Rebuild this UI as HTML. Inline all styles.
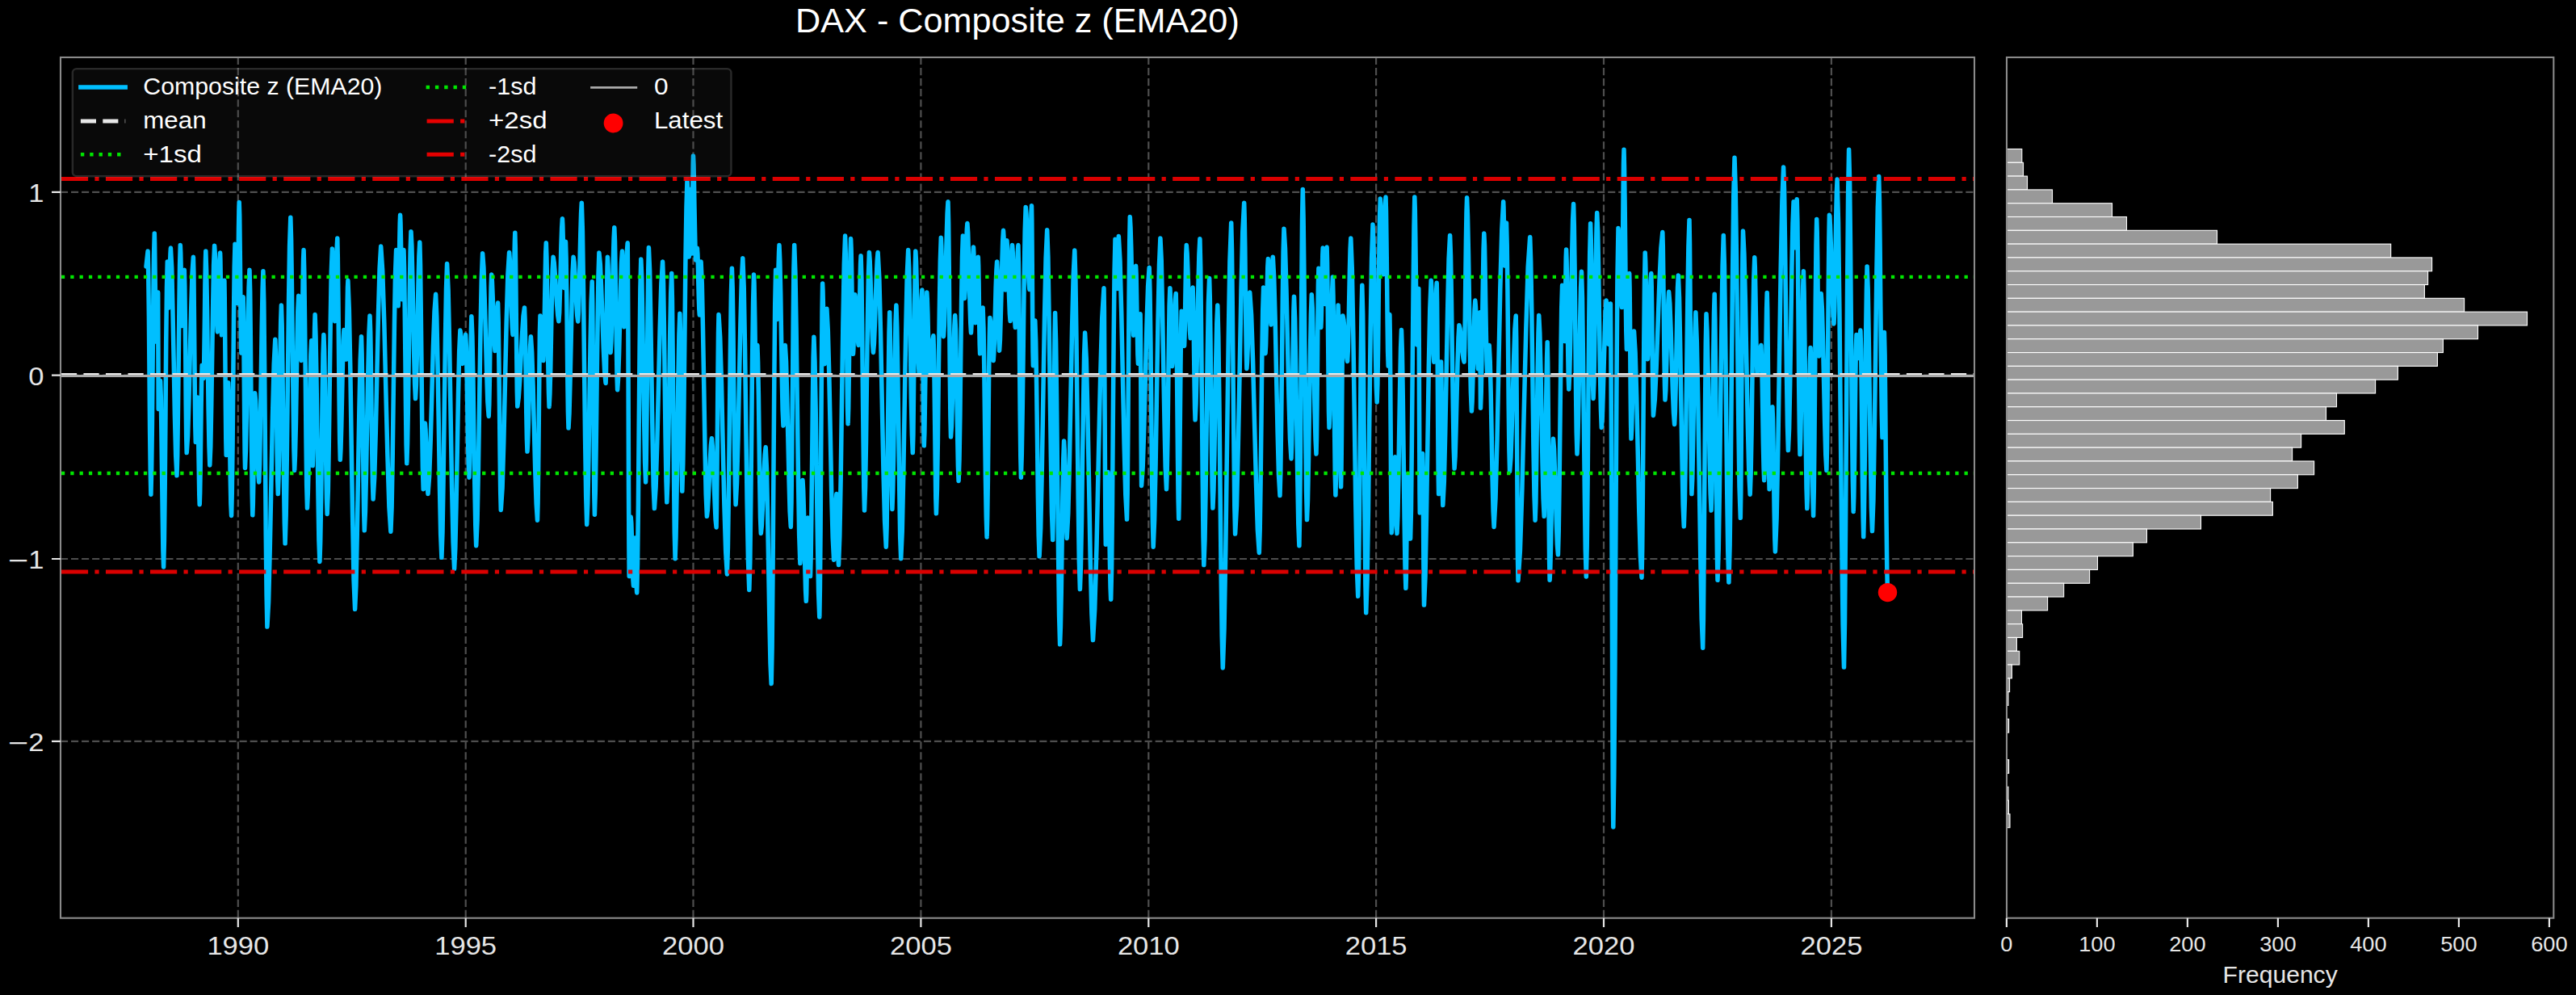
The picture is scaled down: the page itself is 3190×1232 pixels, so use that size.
<!DOCTYPE html>
<html><head><meta charset="utf-8"><title>DAX - Composite z (EMA20)</title>
<style>html,body{margin:0;padding:0;background:#000;}svg{display:block;}</style></head>
<body>
<svg width="3190" height="1232" viewBox="0 0 3190 1232" font-family="Liberation Sans, sans-serif">
<rect width="3190" height="1232" fill="#000"/>
<defs><clipPath id="c1"><rect x="75.0" y="71.0" width="2370.0" height="1065.7"/></clipPath></defs>
<path d="M294.8 71.0V1136.7M576.7 71.0V1136.7M858.5 71.0V1136.7M1140.4 71.0V1136.7M1422.3 71.0V1136.7M1704.1 71.0V1136.7M1986.0 71.0V1136.7M2267.9 71.0V1136.7M75.0 237.8H2445.0M75.0 464.6H2445.0M75.0 692.0H2445.0M75.0 917.8H2445.0" stroke="#4e4e4e" stroke-width="2.2" stroke-dasharray="9.1 3.935" fill="none"/>
<g clip-path="url(#c1)">
<path d="M181.0 330.0 183.1 310.9 183.7 337.1 184.4 391.2 185.0 461.5 185.6 531.8 186.3 586.0 186.9 612.2 187.6 584.1 188.4 526.0 189.1 450.6 189.8 375.2 190.5 317.1 191.3 289.1 191.6 300.7 191.9 324.8 192.3 356.1 192.6 387.4 192.9 411.5 193.2 423.1 193.6 417.8 194.0 406.8 194.4 392.5 194.8 378.2 195.2 367.2 195.7 361.9 196.2 506.6 196.6 503.6 197.0 497.3 197.4 489.1 197.8 480.9 198.2 474.6 198.6 471.6 199.3 491.6 199.9 533.0 200.6 586.8 201.3 640.6 201.9 682.0 202.6 702.0 203.4 669.1 204.2 601.2 205.0 513.0 205.7 424.8 206.5 356.9 207.3 324.0 207.6 329.0 207.8 339.3 208.1 352.6 208.3 365.9 208.6 376.2 208.8 381.2 209.2 374.7 209.7 361.4 210.1 344.1 210.5 326.9 211.0 313.6 211.4 307.1 212.7 331.6 213.9 382.2 215.2 448.0 216.4 513.7 217.7 564.4 219.0 588.8 219.7 564.0 220.4 512.8 221.2 446.2 221.9 379.7 222.6 328.4 223.3 303.6 223.7 312.3 224.1 330.3 224.5 353.6 224.9 376.9 225.3 394.9 225.7 403.6 226.2 397.6 226.6 385.1 227.0 368.9 227.4 352.7 227.9 340.3 228.3 334.2 228.8 353.9 229.3 394.6 229.8 447.4 230.2 500.2 230.7 540.9 231.2 560.6 232.6 539.5 233.9 495.9 235.3 439.4 236.7 382.8 238.0 339.3 239.4 318.2 239.9 338.1 240.3 379.3 240.8 432.8 241.3 486.3 241.8 527.5 242.3 547.4 242.7 542.6 243.1 532.6 243.5 519.7 243.9 506.7 244.3 496.7 244.7 491.9 245.1 503.4 245.5 527.3 245.9 558.3 246.4 589.3 246.8 613.1 247.2 624.7 247.7 609.7 248.2 578.7 248.7 538.5 249.2 498.3 249.7 467.3 250.2 452.3 252.1 468.6 252.6 454.9 253.0 426.6 253.5 389.8 253.9 353.0 254.4 324.6 254.8 310.9 255.6 334.0 256.5 381.6 257.3 443.5 258.1 505.3 259.0 553.0 259.8 576.0 260.8 552.4 261.7 503.5 262.7 440.1 263.7 376.7 264.6 327.8 265.6 304.2 266.2 313.5 266.8 332.7 267.4 357.6 268.0 382.4 268.7 401.6 269.3 410.9 269.8 402.4 270.4 384.8 270.9 361.9 271.5 339.1 272.0 321.5 272.6 313.0 272.9 321.8 273.2 340.1 273.6 363.9 273.9 387.6 274.2 406.0 274.5 414.8 275.1 408.9 275.6 396.8 276.2 381.1 276.7 365.3 277.3 353.2 277.9 347.3 278.2 366.1 278.6 405.0 279.0 455.4 279.4 505.8 279.8 544.7 280.2 563.5 280.6 555.7 281.0 539.5 281.4 518.6 281.9 497.6 282.3 481.5 282.7 473.7 283.4 488.0 284.0 517.6 284.7 556.0 285.3 594.5 285.9 624.1 286.6 638.4 287.3 609.2 288.1 548.7 288.8 470.3 289.5 391.8 290.2 331.4 291.0 302.2 291.5 308.6 292.0 321.8 292.5 338.9 293.0 356.0 293.6 369.2 294.1 375.6 294.4 364.8 294.8 342.3 295.2 313.1 295.5 283.9 295.9 261.4 296.2 250.6 296.7 266.8 297.1 300.3 297.6 343.9 298.0 387.4 298.5 420.9 298.9 437.1 299.3 431.1 299.7 418.6 300.0 402.4 300.4 386.3 300.8 373.8 301.2 367.8 301.6 386.2 301.9 424.2 302.3 473.6 302.7 523.0 303.1 561.1 303.5 579.5 304.4 558.2 305.3 514.1 306.3 456.9 307.2 399.6 308.1 355.6 309.0 334.2 309.7 360.6 310.3 415.2 310.9 486.0 311.6 556.9 312.2 611.4 312.8 637.8 313.3 624.7 313.8 597.5 314.3 562.3 314.8 527.1 315.2 499.9 315.7 486.8 316.6 496.4 317.4 516.2 318.2 541.9 319.0 567.6 319.9 587.4 320.7 597.0 321.6 574.3 322.4 527.3 323.3 466.3 324.2 405.4 325.1 358.4 325.9 335.7 326.8 374.0 327.6 453.1 328.4 555.9 329.2 658.7 330.1 737.8 330.9 776.1 332.6 745.2 334.2 681.2 335.9 598.2 337.5 515.1 339.2 451.2 340.8 420.2 341.4 436.9 342.0 471.2 342.6 515.9 343.1 560.5 343.7 594.9 344.3 611.6 345.0 591.3 345.7 549.3 346.4 494.8 347.0 440.3 347.7 398.3 348.4 378.0 349.2 403.6 349.9 456.6 350.7 525.4 351.5 594.2 352.3 647.2 353.1 672.8 354.2 637.7 355.3 565.2 356.4 471.0 357.5 376.8 358.6 304.3 359.8 269.2 360.6 296.5 361.4 352.7 362.2 425.8 363.1 498.9 363.9 555.2 364.7 582.4 365.5 563.6 366.4 524.8 367.2 474.4 368.0 423.9 368.8 385.1 369.7 366.3 370.3 373.3 370.9 387.7 371.4 406.4 372.0 425.1 372.6 439.5 373.2 446.5 373.7 434.6 374.2 409.9 374.7 378.0 375.1 346.0 375.6 321.4 376.1 309.5 376.8 337.2 377.5 394.7 378.3 469.3 379.0 543.8 379.7 601.3 380.5 629.1 381.3 611.0 382.2 573.8 383.1 525.4 384.0 477.0 384.8 439.7 385.7 421.7 385.9 435.1 386.2 463.0 386.4 499.1 386.7 535.3 386.9 563.1 387.2 576.6 387.6 560.3 388.1 526.7 388.6 483.1 389.1 439.5 389.6 405.9 390.1 389.6 391.0 416.2 392.0 471.2 393.0 542.6 394.0 613.9 394.9 668.9 395.9 695.5 396.7 671.1 397.6 620.6 398.4 555.0 399.2 489.4 400.0 438.8 400.9 414.4 401.6 433.7 402.3 473.6 403.0 525.4 403.8 577.2 404.5 617.1 405.2 636.4 406.3 607.8 407.3 548.8 408.3 472.2 409.3 395.6 410.3 336.5 411.4 308.0 411.9 315.8 412.5 331.9 413.0 352.9 413.6 373.8 414.2 390.0 414.7 397.8 415.2 388.8 415.7 370.3 416.2 346.3 416.8 322.3 417.3 303.8 417.8 294.9 418.3 318.7 418.9 368.1 419.5 432.1 420.1 496.1 420.7 545.5 421.3 569.3 422.0 555.3 422.8 526.4 423.6 488.9 424.4 451.4 425.1 422.5 425.9 408.6 426.4 411.7 426.9 418.3 427.4 426.8 427.9 435.3 428.4 441.9 428.8 445.1 429.2 436.6 429.5 419.0 429.9 396.2 430.2 373.4 430.5 355.8 430.9 347.3 432.3 382.7 433.8 455.9 435.2 550.8 436.7 645.8 438.1 718.9 439.6 754.3 440.9 725.0 442.2 664.3 443.5 585.5 444.9 506.7 446.2 446.1 447.5 416.7 448.1 437.6 448.8 480.7 449.4 536.7 450.0 592.7 450.7 635.9 451.3 656.8 452.4 633.7 453.5 585.9 454.6 523.9 455.8 461.9 456.9 414.2 458.0 391.1 458.7 410.8 459.4 451.6 460.0 504.5 460.7 557.5 461.4 598.3 462.1 618.0 463.7 590.8 465.3 534.5 466.9 461.5 468.5 388.5 470.1 332.3 471.7 305.1 473.7 335.8 475.8 399.3 477.8 481.6 479.9 564.0 481.9 627.5 483.9 658.2 485.1 627.9 486.2 565.2 487.3 483.8 488.4 402.5 489.5 339.8 490.6 309.5 491.1 315.5 491.5 328.0 491.9 344.1 492.4 360.3 492.8 372.8 493.2 378.8 493.6 369.0 494.0 348.8 494.4 322.6 494.8 296.3 495.2 276.1 495.6 266.3 496.0 275.4 496.4 294.1 496.8 318.5 497.3 342.8 497.7 361.6 498.1 370.7 498.4 365.3 498.7 354.3 499.0 340.1 499.3 325.8 499.7 314.8 500.0 309.5 500.6 332.4 501.2 379.9 501.9 441.6 502.5 503.2 503.1 550.7 503.8 573.7 504.6 548.7 505.5 497.2 506.4 430.2 507.3 363.2 508.1 311.7 509.0 286.7 509.9 304.7 510.8 341.9 511.8 390.1 512.7 438.4 513.6 475.5 514.5 493.5 515.4 476.7 516.3 441.9 517.2 396.8 518.0 351.7 518.9 316.9 519.8 300.1 520.5 326.7 521.2 381.6 522.0 452.9 522.7 524.2 523.4 579.2 524.2 605.7 524.5 598.6 524.9 584.0 525.3 564.9 525.7 545.9 526.0 531.2 526.4 524.1 527.0 531.7 527.6 547.4 528.2 567.9 528.8 588.3 529.4 604.0 530.0 611.6 531.6 590.1 533.2 545.6 534.8 487.9 536.4 430.2 538.0 385.8 539.6 364.3 540.8 392.6 542.0 451.2 543.3 527.3 544.5 603.3 545.7 661.9 546.9 690.3 548.0 658.6 549.1 593.2 550.2 508.3 551.4 423.4 552.5 358.0 553.6 326.4 555.1 359.2 556.6 427.1 558.1 515.3 559.6 603.5 561.1 671.4 562.6 704.3 563.8 678.6 565.0 625.6 566.3 556.7 567.5 487.9 568.7 434.8 569.9 409.1 570.4 412.7 570.8 420.1 571.2 429.8 571.7 439.4 572.1 446.8 572.6 450.4 573.2 447.3 573.9 440.8 574.6 432.4 575.3 424.0 576.0 417.5 576.6 414.4 577.4 429.8 578.1 461.5 578.8 502.8 579.5 544.0 580.3 575.8 581.0 591.2 581.5 573.8 582.0 538.0 582.5 491.4 582.9 444.9 583.4 409.0 583.9 391.7 584.9 416.3 585.9 467.4 586.8 533.7 587.8 600.0 588.8 651.0 589.7 675.7 591.1 644.2 592.4 579.2 593.7 494.8 595.0 410.3 596.3 345.3 597.6 313.8 598.9 331.3 600.1 367.6 601.4 414.6 602.7 461.6 603.9 497.9 605.2 515.4 605.8 500.1 606.4 468.6 606.9 427.7 607.5 386.8 608.1 355.3 608.7 340.1 609.4 348.3 610.1 365.3 610.9 387.3 611.6 409.3 612.3 426.3 613.0 434.5 613.6 429.4 614.2 418.7 614.8 404.8 615.4 390.9 616.0 380.2 616.6 375.0 617.2 397.3 617.8 443.4 618.5 503.2 619.1 563.0 619.7 609.1 620.3 631.4 622.1 603.7 623.8 546.3 625.5 471.9 627.2 397.4 628.9 340.1 630.6 312.4 631.3 321.2 632.0 339.6 632.8 363.4 633.5 387.2 634.3 405.5 635.0 414.4 635.5 403.4 636.0 380.7 636.4 351.3 636.9 321.8 637.4 299.1 637.8 288.2 638.3 306.9 638.8 345.5 639.3 395.7 639.8 445.8 640.3 484.5 640.8 503.1 642.2 492.5 643.7 470.5 645.1 442.0 646.6 413.5 648.0 391.5 649.5 380.9 650.1 396.4 650.7 428.4 651.2 470.0 651.8 511.6 652.4 543.6 653.0 559.1 653.7 546.7 654.5 521.1 655.2 487.9 655.9 454.7 656.6 429.1 657.4 416.7 658.7 436.5 660.1 477.4 661.4 530.5 662.8 583.6 664.2 624.4 665.5 644.2 666.1 622.2 666.7 576.7 667.3 517.6 667.9 458.6 668.4 413.1 669.0 391.1 669.7 395.9 670.3 405.9 671.0 418.8 671.6 431.8 672.2 441.8 672.9 446.6 673.5 433.9 674.0 407.7 674.6 373.7 675.2 339.6 675.7 313.4 676.3 300.7 676.9 318.4 677.6 354.8 678.2 402.2 678.8 449.6 679.5 486.1 680.1 503.7 680.9 487.6 681.8 454.3 682.6 411.0 683.4 367.7 684.2 334.3 685.1 318.2 686.2 325.1 687.3 339.4 688.5 358.0 689.6 376.5 690.8 390.8 691.9 397.8 692.7 386.7 693.4 363.9 694.2 334.2 694.9 304.6 695.7 281.7 696.4 270.7 696.8 278.1 697.2 293.5 697.5 313.5 697.9 333.5 698.3 348.9 698.7 356.4 699.0 351.4 699.3 341.1 699.6 327.8 699.9 314.5 700.2 304.2 700.5 299.3 701.1 319.3 701.7 360.8 702.3 414.6 702.8 468.4 703.4 509.9 704.0 530.0 705.0 511.6 706.0 473.5 707.1 424.1 708.1 374.7 709.1 336.6 710.1 318.2 711.1 325.1 712.0 339.5 712.9 358.1 713.8 376.7 714.8 391.1 715.7 398.0 716.5 385.3 717.2 358.9 718.0 324.6 718.8 290.3 719.6 263.9 720.3 251.2 721.4 285.8 722.5 357.4 723.5 450.3 724.6 543.3 725.7 614.8 726.7 649.5 727.8 623.3 728.9 569.3 729.9 499.1 731.0 429.0 732.1 374.9 733.2 348.8 733.7 373.9 734.2 425.7 734.8 493.0 735.3 560.3 735.8 612.2 736.4 637.2 737.3 609.0 738.2 550.8 739.1 475.1 740.1 399.4 741.0 341.1 741.9 313.0 743.3 327.0 744.6 356.1 746.0 393.8 747.3 431.5 748.7 460.5 750.1 474.6 750.5 461.0 750.8 432.9 751.2 396.4 751.6 359.9 752.0 331.8 752.4 318.2 753.0 328.5 753.6 349.8 754.2 377.4 754.8 405.0 755.5 426.3 756.1 436.5 756.9 423.1 757.7 395.3 758.5 359.2 759.3 323.0 760.1 295.2 760.8 281.8 761.5 299.2 762.1 335.4 762.7 382.2 763.4 429.1 764.0 465.3 764.6 482.7 765.6 467.8 766.6 436.9 767.6 396.8 768.5 356.7 769.5 325.8 770.5 310.9 770.9 319.1 771.3 335.9 771.7 357.8 772.1 379.7 772.5 396.6 772.9 404.8 773.6 395.7 774.3 377.0 775.0 352.7 775.7 328.5 776.5 309.8 777.2 300.7 777.5 336.6 777.9 410.8 778.2 507.2 778.5 603.5 778.9 677.7 779.2 713.6 779.5 707.2 779.9 694.0 780.2 676.9 780.6 659.7 780.9 646.5 781.2 640.1 781.8 647.5 782.3 662.8 782.8 682.7 783.4 702.6 783.9 717.9 784.5 725.3 784.7 720.1 785.0 709.4 785.3 695.6 785.6 681.7 785.8 671.0 786.1 665.9 786.5 671.8 787.0 684.0 787.4 699.9 787.8 715.8 788.3 728.0 788.7 733.9 789.5 698.0 790.4 623.8 791.2 527.5 792.1 431.2 792.9 357.0 793.8 321.1 794.8 345.1 795.7 394.7 796.7 459.1 797.7 523.4 798.6 573.0 799.6 597.0 800.2 571.8 800.9 519.5 801.5 451.8 802.1 384.0 802.8 331.8 803.4 306.5 804.6 334.6 805.7 392.7 806.9 468.1 808.1 543.5 809.2 601.6 810.4 629.6 812.1 603.1 813.8 548.1 815.5 476.8 817.2 405.5 818.9 350.6 820.6 324.0 821.5 349.9 822.4 403.4 823.2 472.9 824.1 542.4 825.0 595.9 825.8 621.8 826.8 597.2 827.8 546.3 828.8 480.2 829.7 414.1 830.7 363.2 831.7 338.6 832.4 369.3 833.1 432.8 833.9 515.2 834.6 597.6 835.3 661.0 836.1 691.7 837.0 665.3 838.0 610.8 839.0 539.9 839.9 469.1 840.9 414.5 841.9 388.2 842.4 407.3 842.9 446.8 843.3 498.1 843.8 549.4 844.3 589.0 844.8 608.1 845.8 574.5 846.9 505.2 847.9 415.1 848.9 325.1 850.0 255.7 851.0 222.2 851.4 230.5 851.8 247.7 852.1 270.1 852.5 292.5 852.9 309.7 853.3 318.0 853.6 310.7 853.9 295.7 854.2 276.1 854.6 256.5 854.9 241.5 855.2 234.2 855.5 241.1 855.7 255.5 856.0 274.1 856.3 292.7 856.5 307.1 856.8 314.0 857.1 303.5 857.4 281.7 857.6 253.4 857.9 225.2 858.2 203.4 858.5 192.9 859.0 204.1 859.5 227.3 860.0 257.4 860.6 287.6 861.1 310.8 861.6 322.0 863.4 307.2 863.9 314.4 864.4 329.3 864.8 348.6 865.3 367.9 865.8 382.8 866.3 390.0 866.6 384.3 866.9 372.4 867.2 357.0 867.5 341.6 867.8 329.8 868.1 324.0 869.3 351.4 870.5 408.1 871.8 481.6 873.0 555.2 874.2 611.9 875.4 639.3 876.4 630.9 877.4 613.5 878.4 591.0 879.4 568.5 880.4 551.2 881.4 542.8 882.3 552.4 883.3 572.2 884.2 597.9 885.2 623.6 886.1 643.4 887.1 653.0 887.5 630.1 888.0 582.7 888.5 521.3 889.0 459.8 889.5 412.5 890.0 389.6 891.7 417.5 893.5 475.3 895.2 550.3 896.9 625.2 898.7 683.0 900.4 710.9 901.4 678.0 902.4 609.9 903.4 521.5 904.4 433.2 905.4 365.1 906.4 332.2 907.2 357.6 908.0 410.2 908.7 478.4 909.5 546.7 910.3 599.3 911.1 624.7 912.5 598.2 914.0 543.3 915.4 472.2 916.9 401.0 918.4 346.2 919.8 319.7 921.2 355.4 922.5 429.2 923.8 525.0 925.1 620.9 926.5 694.7 927.8 730.4 928.8 696.5 929.7 626.3 930.7 535.2 931.6 444.2 932.6 374.0 933.5 340.1 934.0 350.7 934.4 372.6 934.9 401.1 935.3 429.6 935.7 451.5 936.2 462.1 936.5 459.1 936.8 452.9 937.0 444.8 937.3 436.7 937.6 430.5 937.9 427.5 938.6 447.8 939.4 489.7 940.1 544.0 940.8 598.4 941.5 640.3 942.3 660.5 943.3 651.3 944.2 632.1 945.2 607.2 946.2 582.3 947.2 563.1 948.2 553.8 949.4 579.3 950.5 631.9 951.7 700.2 952.9 768.4 954.0 821.1 955.2 846.5 956.1 802.0 957.0 709.9 957.9 590.4 958.8 470.8 959.7 378.8 960.6 334.2 960.9 339.6 961.2 350.6 961.5 364.8 961.8 379.1 962.1 390.1 962.4 395.4 962.8 387.5 963.2 371.0 963.7 349.5 964.1 328.1 964.6 311.6 965.0 303.6 965.8 323.0 966.7 363.2 967.5 415.3 968.3 467.5 969.1 507.6 970.0 527.0 970.3 518.4 970.7 500.5 971.1 477.3 971.5 454.1 971.9 436.2 972.3 427.5 973.5 447.1 974.6 487.5 975.8 539.9 977.0 592.4 978.1 632.8 979.3 652.4 980.0 622.1 980.7 559.4 981.5 478.0 982.2 396.6 982.9 333.9 983.7 303.6 984.9 337.9 986.1 408.7 987.3 500.6 988.5 592.5 989.7 663.3 990.9 697.6 991.5 688.6 992.0 670.1 992.5 646.1 993.0 622.0 993.5 603.5 994.0 594.6 994.7 607.6 995.5 634.5 996.2 669.4 996.9 704.4 997.6 731.3 998.3 744.3 998.7 735.3 999.0 716.8 999.4 692.7 999.8 668.6 1000.2 650.1 1000.5 641.1 1001.0 647.4 1001.5 660.4 1002.0 677.3 1002.5 694.3 1003.0 707.3 1003.5 713.6 1004.2 687.8 1004.9 634.6 1005.7 565.5 1006.4 496.3 1007.1 443.1 1007.9 417.3 1009.0 447.4 1010.2 509.7 1011.3 590.6 1012.5 671.5 1013.6 733.8 1014.8 763.9 1015.4 728.0 1016.1 653.8 1016.7 557.5 1017.4 461.2 1018.0 387.0 1018.6 351.1 1019.0 359.8 1019.4 377.7 1019.8 401.0 1020.2 424.2 1020.7 442.2 1021.1 450.8 1021.5 444.9 1022.0 432.6 1022.5 416.6 1022.9 400.6 1023.4 388.3 1023.9 382.3 1025.3 409.3 1026.8 465.2 1028.3 537.8 1029.7 610.3 1031.2 666.2 1032.6 693.2 1033.2 686.1 1033.7 671.4 1034.3 652.4 1034.8 633.3 1035.3 618.7 1035.9 611.6 1036.3 619.2 1036.7 635.0 1037.2 655.6 1037.6 676.1 1038.0 692.0 1038.5 699.6 1039.8 664.2 1041.2 590.9 1042.5 495.8 1043.9 400.7 1045.3 327.4 1046.6 292.0 1047.2 312.2 1047.8 354.0 1048.4 408.3 1049.0 462.6 1049.5 504.5 1050.1 524.7 1050.7 504.8 1051.3 463.6 1051.9 410.1 1052.4 356.6 1053.0 315.4 1053.6 295.5 1054.1 307.9 1054.6 333.6 1055.1 366.9 1055.5 400.2 1056.0 425.9 1056.5 438.3 1056.9 431.9 1057.3 418.7 1057.7 401.6 1058.1 384.4 1058.5 371.2 1058.9 364.8 1059.6 370.3 1060.3 381.5 1061.0 396.1 1061.7 410.7 1062.4 422.0 1063.1 427.4 1063.6 417.8 1064.1 397.9 1064.6 372.1 1065.1 346.3 1065.6 326.4 1066.1 316.7 1066.9 344.1 1067.6 400.8 1068.3 474.4 1069.1 547.9 1069.8 604.6 1070.5 632.0 1071.5 604.2 1072.5 546.7 1073.4 472.2 1074.4 397.6 1075.4 340.2 1076.4 312.4 1077.2 323.1 1078.0 345.4 1078.9 374.4 1079.7 403.3 1080.6 425.6 1081.4 436.4 1082.4 425.6 1083.3 403.3 1084.3 374.4 1085.2 345.4 1086.2 323.1 1087.1 312.4 1088.8 344.1 1090.5 409.6 1092.2 494.8 1093.9 579.9 1095.6 645.5 1097.3 677.2 1098.1 651.9 1098.8 599.7 1099.5 531.9 1100.3 464.2 1101.0 411.9 1101.7 386.7 1102.2 407.9 1102.8 451.7 1103.3 508.6 1103.8 565.5 1104.4 609.3 1104.9 630.5 1105.7 608.6 1106.6 563.2 1107.4 504.2 1108.2 445.3 1109.0 399.9 1109.9 378.0 1110.8 405.2 1111.8 461.6 1112.8 534.8 1113.8 608.1 1114.7 664.5 1115.7 691.7 1117.2 658.5 1118.7 589.8 1120.2 500.6 1121.7 411.4 1123.2 342.7 1124.7 309.5 1125.7 331.3 1126.6 376.4 1127.5 435.0 1128.4 493.6 1129.4 538.7 1130.3 560.6 1130.9 538.9 1131.4 494.0 1132.0 435.7 1132.6 377.5 1133.2 332.6 1133.8 310.9 1134.5 324.2 1135.2 351.6 1136.0 387.2 1136.7 422.8 1137.4 450.2 1138.2 463.5 1138.8 454.4 1139.4 435.6 1140.1 411.2 1140.7 386.9 1141.3 368.1 1141.9 359.0 1142.3 375.8 1142.7 410.4 1143.1 455.4 1143.5 500.4 1143.9 535.1 1144.3 551.8 1144.9 535.3 1145.4 501.2 1146.0 456.9 1146.6 412.6 1147.2 378.4 1147.8 361.9 1148.3 370.7 1148.9 388.9 1149.4 412.5 1150.0 436.2 1150.6 454.4 1151.1 463.2 1151.9 459.0 1152.7 450.5 1153.5 439.5 1154.3 428.5 1155.1 420.0 1155.9 415.8 1156.5 435.0 1157.1 474.5 1157.7 525.8 1158.3 577.1 1158.8 616.7 1159.4 635.8 1160.4 606.1 1161.4 544.7 1162.3 465.0 1163.3 385.4 1164.3 324.0 1165.3 294.3 1165.8 304.9 1166.3 326.9 1166.9 355.5 1167.4 384.1 1167.9 406.1 1168.5 416.7 1169.4 402.2 1170.3 372.2 1171.2 333.2 1172.2 294.2 1173.1 264.2 1174.0 249.7 1174.6 275.0 1175.2 327.4 1175.7 395.4 1176.3 463.3 1176.9 515.7 1177.5 541.0 1178.4 527.9 1179.2 500.9 1180.1 465.8 1181.0 430.6 1181.9 403.6 1182.7 390.5 1183.5 408.3 1184.2 445.2 1184.9 493.0 1185.7 540.9 1186.4 577.7 1187.1 595.5 1188.0 569.2 1188.9 514.6 1189.7 443.8 1190.6 372.9 1191.5 318.4 1192.4 292.0 1192.7 298.7 1193.1 312.6 1193.4 330.7 1193.8 348.8 1194.1 362.8 1194.5 369.5 1195.0 361.4 1195.6 344.7 1196.2 323.0 1196.8 301.3 1197.3 284.6 1197.9 276.5 1198.7 288.3 1199.4 312.7 1200.2 344.3 1201.0 375.9 1201.8 400.3 1202.5 412.1 1203.0 402.8 1203.5 383.8 1204.0 359.0 1204.5 334.3 1205.0 315.2 1205.5 306.0 1205.9 314.1 1206.3 331.0 1206.7 352.9 1207.1 374.8 1207.5 391.7 1208.0 399.8 1208.5 392.7 1209.1 378.1 1209.6 359.0 1210.2 340.0 1210.8 325.3 1211.3 318.2 1211.7 328.6 1212.1 350.1 1212.4 378.0 1212.8 405.9 1213.2 427.4 1213.6 437.8 1214.2 432.9 1214.8 422.6 1215.4 409.4 1215.9 396.1 1216.5 385.8 1217.1 380.9 1218.0 405.6 1218.8 456.6 1219.6 522.9 1220.4 589.2 1221.3 640.2 1222.1 664.9 1222.7 641.3 1223.4 592.5 1224.0 529.2 1224.6 465.8 1225.3 417.0 1225.9 393.4 1226.6 398.0 1227.3 407.6 1228.0 420.0 1228.7 432.4 1229.5 441.9 1230.2 446.6 1230.9 435.9 1231.7 413.9 1232.4 385.3 1233.1 356.7 1233.9 334.7 1234.6 324.0 1235.1 333.6 1235.6 353.4 1236.1 379.1 1236.6 404.8 1237.1 424.6 1237.6 434.2 1238.4 421.3 1239.2 394.5 1240.1 359.7 1240.9 325.0 1241.7 298.2 1242.5 285.3 1242.9 291.7 1243.4 304.9 1243.8 322.1 1244.2 339.3 1244.7 352.6 1245.1 359.0 1245.4 353.7 1245.7 342.7 1246.0 328.4 1246.3 314.1 1246.6 303.1 1246.9 297.8 1247.6 306.5 1248.3 324.4 1249.0 347.6 1249.7 370.9 1250.4 388.8 1251.1 397.5 1251.5 389.3 1251.9 372.5 1252.4 350.6 1252.8 328.7 1253.2 311.8 1253.6 303.6 1254.2 312.5 1254.8 330.8 1255.4 354.6 1256.1 378.4 1256.7 396.8 1257.3 405.6 1257.9 396.8 1258.5 378.4 1259.1 354.6 1259.7 330.8 1260.3 312.5 1260.9 303.6 1261.4 328.6 1262.0 380.3 1262.6 447.4 1263.2 514.5 1263.8 566.2 1264.4 591.2 1265.3 562.1 1266.3 501.9 1267.3 423.8 1268.2 345.7 1269.2 285.5 1270.2 256.4 1271.0 265.3 1271.8 283.6 1272.5 307.4 1273.3 331.2 1274.1 349.6 1274.9 358.4 1275.3 349.4 1275.7 330.8 1276.2 306.5 1276.6 282.3 1277.0 263.7 1277.5 254.7 1277.8 271.9 1278.1 307.5 1278.4 353.7 1278.7 399.9 1279.0 435.5 1279.4 452.7 1279.8 447.8 1280.2 437.8 1280.6 424.8 1281.0 411.8 1281.4 401.7 1281.8 396.9 1282.7 422.3 1283.6 474.7 1284.5 542.9 1285.3 611.0 1286.2 663.4 1287.1 688.8 1288.7 653.7 1290.3 581.0 1291.9 486.7 1293.5 392.4 1295.1 319.8 1296.7 284.7 1297.9 318.0 1299.0 387.0 1300.2 476.5 1301.4 566.1 1302.5 635.1 1303.7 668.4 1304.2 644.0 1304.7 593.5 1305.2 528.0 1305.7 462.5 1306.1 412.0 1306.6 387.6 1307.6 423.2 1308.6 497.0 1309.6 592.7 1310.6 688.4 1311.6 762.1 1312.6 797.8 1313.4 775.9 1314.3 730.6 1315.1 671.9 1315.9 613.1 1316.8 567.9 1317.6 546.0 1318.2 556.4 1318.8 578.1 1319.4 606.2 1320.0 634.3 1320.6 655.9 1321.2 666.4 1322.8 635.4 1324.4 571.4 1326.0 488.2 1327.6 405.1 1329.2 341.0 1330.8 310.0 1331.9 346.5 1333.0 421.9 1334.1 519.8 1335.2 617.7 1336.3 693.1 1337.4 729.6 1338.4 702.0 1339.5 644.9 1340.5 570.8 1341.6 496.7 1342.6 439.7 1343.6 412.1 1345.3 445.1 1346.9 513.5 1348.6 602.3 1350.2 691.1 1351.9 759.5 1353.5 792.6 1355.7 754.7 1358.0 676.4 1360.2 574.6 1362.5 472.9 1364.7 394.6 1367.0 356.7 1367.4 384.3 1367.7 441.4 1368.1 515.5 1368.5 589.6 1368.9 646.6 1369.3 674.2 1369.8 666.5 1370.3 650.3 1370.7 629.4 1371.2 608.5 1371.7 592.4 1372.2 584.6 1372.8 598.3 1373.3 626.6 1373.9 663.4 1374.5 700.2 1375.1 728.5 1375.7 742.2 1376.6 703.4 1377.5 623.3 1378.3 519.3 1379.2 415.2 1380.1 335.1 1381.0 296.3 1381.4 301.7 1381.9 312.7 1382.4 326.9 1382.8 341.2 1383.3 352.2 1383.8 357.6 1384.0 351.9 1384.3 340.2 1384.6 325.0 1384.8 309.9 1385.1 298.2 1385.3 292.5 1387.0 323.0 1388.7 386.0 1390.4 467.8 1392.1 549.6 1393.8 612.6 1395.5 643.1 1396.2 610.5 1396.8 543.2 1397.4 455.9 1398.1 368.5 1398.7 301.2 1399.3 268.6 1400.0 281.4 1400.8 307.7 1401.5 342.0 1402.2 376.2 1402.9 402.5 1403.7 415.3 1404.2 407.8 1404.6 392.3 1405.1 372.3 1405.6 352.2 1406.1 336.8 1406.6 329.3 1407.1 339.8 1407.5 361.5 1408.0 389.8 1408.5 418.0 1408.9 439.7 1409.4 450.2 1409.9 444.9 1410.3 433.8 1410.8 419.5 1411.2 405.1 1411.7 394.1 1412.1 388.7 1412.4 407.2 1412.6 445.4 1412.9 495.1 1413.1 544.7 1413.4 582.9 1413.6 601.4 1415.2 577.9 1416.8 529.4 1418.4 466.3 1420.0 403.3 1421.6 354.8 1423.2 331.3 1424.0 361.4 1424.9 423.5 1425.7 504.2 1426.5 584.9 1427.4 647.1 1428.2 677.2 1429.6 643.9 1431.1 575.2 1432.5 486.0 1434.0 396.8 1435.5 328.1 1436.9 294.9 1438.2 321.9 1439.4 377.8 1440.7 450.3 1442.0 522.8 1443.2 578.7 1444.5 605.7 1445.2 584.1 1446.0 539.3 1446.7 481.2 1447.4 423.1 1448.1 378.3 1448.9 356.7 1449.3 365.1 1449.7 382.5 1450.2 405.1 1450.6 427.7 1451.0 445.2 1451.5 453.6 1452.3 445.7 1453.0 429.5 1453.8 408.5 1454.6 387.4 1455.4 371.2 1456.2 363.4 1456.7 387.6 1457.3 437.7 1457.9 502.8 1458.5 567.8 1459.1 617.9 1459.7 642.2 1460.2 619.8 1460.8 573.7 1461.4 513.7 1462.0 453.8 1462.6 407.6 1463.2 385.2 1463.7 389.0 1464.3 396.7 1464.9 406.8 1465.4 416.9 1466.0 424.6 1466.6 428.4 1467.0 417.5 1467.5 395.1 1467.9 366.0 1468.4 336.9 1468.8 314.5 1469.3 303.6 1470.1 313.6 1470.9 334.3 1471.8 361.2 1472.6 388.0 1473.4 408.7 1474.2 418.7 1474.7 413.3 1475.2 402.0 1475.7 387.4 1476.2 372.8 1476.7 361.5 1477.1 356.1 1477.6 370.3 1478.1 399.7 1478.6 437.9 1479.1 476.1 1479.6 505.5 1480.1 519.8 1481.0 500.3 1482.0 460.0 1483.0 407.8 1483.9 355.5 1484.9 315.2 1485.9 295.8 1486.7 330.9 1487.5 403.4 1488.4 497.7 1489.2 591.9 1490.0 664.5 1490.8 699.6 1492.0 668.7 1493.1 604.9 1494.2 522.0 1495.3 439.1 1496.4 375.3 1497.6 344.4 1498.3 369.2 1499.0 420.3 1499.7 486.7 1500.5 553.2 1501.2 604.3 1501.9 629.1 1502.9 607.2 1503.9 562.1 1504.8 503.5 1505.8 444.9 1506.8 399.8 1507.8 378.0 1508.8 417.0 1509.9 497.7 1511.0 602.5 1512.1 707.3 1513.2 788.0 1514.3 827.0 1516.0 779.1 1517.8 680.0 1519.5 551.5 1521.2 422.9 1522.9 323.8 1524.7 275.9 1525.5 309.4 1526.3 378.7 1527.1 468.5 1528.0 558.4 1528.8 627.6 1529.6 661.1 1531.5 625.5 1533.3 551.8 1535.2 456.1 1537.0 360.5 1538.8 286.8 1540.7 251.2 1541.2 269.0 1541.8 305.9 1542.3 353.8 1542.8 401.7 1543.4 438.5 1543.9 456.4 1544.5 448.2 1545.2 431.2 1545.8 409.2 1546.4 387.1 1547.1 370.1 1547.7 361.9 1549.6 390.0 1551.6 447.9 1553.5 523.2 1555.5 598.4 1557.4 656.4 1559.3 684.4 1560.2 655.9 1561.1 596.9 1562.0 520.3 1562.8 443.7 1563.7 384.6 1564.6 356.1 1565.0 363.2 1565.4 377.9 1565.8 396.9 1566.2 415.9 1566.6 430.6 1567.0 437.7 1567.6 427.5 1568.1 406.5 1568.7 379.1 1569.3 351.8 1569.8 330.7 1570.4 320.5 1571.0 327.6 1571.6 342.3 1572.2 361.3 1572.8 380.4 1573.4 395.1 1574.0 402.1 1574.4 394.9 1574.8 379.8 1575.1 360.2 1575.5 340.6 1575.9 325.5 1576.3 318.2 1577.7 343.9 1579.2 397.0 1580.6 465.9 1582.1 534.8 1583.5 587.9 1585.0 613.6 1585.8 584.9 1586.6 525.5 1587.5 448.4 1588.3 371.3 1589.1 311.9 1590.0 283.2 1591.5 308.0 1593.0 359.1 1594.5 425.5 1596.0 491.9 1597.5 543.1 1599.0 567.9 1599.6 550.4 1600.2 514.3 1600.7 467.5 1601.3 420.7 1601.9 384.6 1602.5 367.2 1603.6 394.0 1604.6 449.4 1605.7 521.4 1606.8 593.4 1607.8 648.9 1608.9 675.7 1609.6 637.4 1610.4 558.1 1611.1 455.1 1611.8 352.2 1612.5 272.9 1613.3 234.5 1614.1 270.1 1615.0 343.6 1615.9 439.1 1616.8 534.5 1617.6 608.1 1618.5 643.6 1619.5 619.4 1620.5 569.3 1621.4 504.2 1622.4 439.2 1623.4 389.1 1624.3 364.8 1625.3 382.0 1626.2 417.4 1627.2 463.4 1628.1 509.4 1629.1 544.9 1630.0 562.0 1630.5 542.0 1631.0 500.7 1631.5 447.1 1631.9 393.5 1632.4 352.2 1632.9 332.2 1633.4 338.6 1633.9 351.8 1634.3 368.9 1634.8 386.1 1635.3 399.3 1635.8 405.6 1636.2 397.1 1636.6 379.4 1637.0 356.4 1637.4 333.4 1637.8 315.7 1638.2 307.1 1638.6 313.2 1639.1 325.6 1639.5 341.8 1640.0 358.0 1640.4 370.5 1640.9 376.5 1641.3 370.4 1641.6 357.7 1642.0 341.2 1642.4 324.8 1642.7 312.1 1643.1 306.0 1643.6 325.4 1644.1 365.5 1644.6 417.7 1645.1 469.8 1645.5 510.0 1646.0 529.4 1646.8 513.2 1647.5 479.7 1648.2 436.2 1648.9 392.7 1649.7 359.2 1650.4 343.0 1651.0 366.5 1651.6 415.0 1652.2 478.0 1652.7 541.0 1653.3 589.6 1653.9 613.0 1654.4 592.6 1655.0 550.3 1655.5 495.5 1656.0 440.6 1656.6 398.4 1657.1 378.0 1657.7 397.5 1658.3 437.9 1658.9 490.4 1659.4 542.9 1660.0 583.3 1660.6 602.8 1661.0 584.4 1661.4 546.4 1661.8 497.0 1662.2 447.5 1662.5 409.5 1662.9 391.1 1663.9 396.0 1664.8 406.1 1665.8 419.2 1666.7 432.4 1667.7 442.5 1668.6 447.4 1669.3 434.1 1670.0 406.7 1670.7 371.1 1671.4 335.6 1672.1 308.1 1672.8 294.9 1674.3 333.4 1675.8 413.1 1677.3 516.6 1678.7 620.1 1680.2 699.8 1681.7 738.3 1682.6 704.8 1683.4 635.6 1684.3 545.7 1685.1 455.9 1686.0 386.7 1686.8 353.2 1687.7 388.4 1688.5 461.3 1689.3 555.9 1690.1 650.6 1690.9 723.5 1691.7 758.7 1693.1 716.9 1694.5 630.5 1695.8 518.3 1697.2 406.2 1698.6 319.8 1700.0 278.0 1700.8 297.1 1701.7 336.6 1702.6 387.9 1703.5 439.2 1704.3 478.8 1705.2 497.9 1705.9 476.0 1706.6 430.7 1707.2 371.9 1707.9 313.1 1708.6 267.8 1709.3 245.9 1709.9 254.1 1710.6 270.9 1711.3 292.8 1711.9 314.7 1712.6 331.6 1713.2 339.8 1713.7 331.4 1714.1 314.2 1714.6 291.8 1715.1 269.4 1715.5 252.2 1716.0 243.9 1716.5 262.1 1717.0 299.7 1717.6 348.5 1718.1 397.4 1718.6 435.0 1719.2 453.2 1719.5 447.6 1719.8 436.2 1720.1 421.4 1720.4 406.6 1720.6 395.1 1720.9 389.6 1721.3 413.1 1721.7 461.6 1722.1 524.6 1722.5 587.7 1722.9 636.2 1723.3 659.7 1724.0 651.5 1724.7 634.6 1725.4 612.7 1726.1 590.8 1726.8 574.0 1727.5 565.8 1727.9 574.0 1728.3 591.1 1728.8 613.2 1729.2 635.3 1729.6 652.3 1730.0 660.5 1730.9 638.6 1731.8 593.3 1732.7 534.6 1733.7 475.8 1734.6 430.5 1735.5 408.6 1736.4 436.4 1737.3 493.8 1738.2 568.4 1739.1 643.0 1740.0 700.5 1740.9 728.3 1741.3 716.0 1741.6 690.7 1742.0 657.8 1742.4 624.8 1742.7 599.5 1743.1 587.2 1743.7 594.2 1744.3 608.5 1744.9 627.1 1745.4 645.7 1746.0 660.0 1746.6 667.0 1747.5 630.2 1748.3 554.1 1749.2 455.4 1750.1 356.7 1751.0 280.6 1751.8 243.9 1752.3 259.8 1752.8 292.7 1753.3 335.4 1753.8 378.1 1754.3 411.0 1754.8 426.9 1755.1 420.9 1755.4 408.4 1755.8 392.2 1756.1 376.1 1756.5 363.6 1756.8 357.6 1757.0 381.7 1757.3 431.5 1757.5 496.2 1757.8 560.9 1758.0 610.8 1758.3 634.9 1758.8 628.5 1759.4 615.3 1759.9 598.2 1760.5 581.0 1761.1 567.8 1761.6 561.5 1761.9 577.8 1762.3 611.5 1762.6 655.3 1762.9 699.1 1763.2 732.8 1763.5 749.1 1765.0 714.2 1766.4 642.0 1767.9 548.2 1769.3 454.5 1770.8 382.3 1772.2 347.3 1772.8 356.1 1773.4 374.2 1774.0 397.8 1774.6 421.3 1775.2 439.4 1775.8 448.2 1776.4 439.7 1777.0 422.1 1777.5 399.2 1778.1 376.4 1778.7 358.8 1779.2 350.3 1779.6 373.0 1780.0 419.9 1780.4 480.9 1780.8 541.9 1781.2 588.9 1781.6 611.6 1782.1 597.3 1782.5 567.9 1783.0 529.7 1783.5 491.6 1784.0 462.1 1784.5 447.9 1784.9 463.4 1785.3 495.3 1785.7 536.7 1786.0 578.2 1786.4 610.1 1786.8 625.6 1788.3 596.5 1789.7 536.5 1791.2 458.5 1792.7 380.5 1794.1 320.4 1795.6 291.4 1796.5 316.5 1797.4 368.4 1798.3 435.7 1799.3 503.1 1800.2 555.0 1801.1 580.1 1802.1 564.7 1803.0 532.8 1804.0 491.4 1805.0 450.0 1806.0 418.1 1806.9 402.7 1808.0 406.7 1809.0 414.9 1810.0 425.5 1811.0 436.1 1812.1 444.2 1813.1 448.2 1813.7 430.5 1814.3 393.9 1814.8 346.5 1815.4 299.0 1816.0 262.4 1816.6 244.7 1817.5 267.7 1818.5 315.2 1819.5 376.9 1820.4 438.5 1821.4 486.0 1822.4 509.0 1823.1 497.1 1823.8 472.5 1824.6 440.5 1825.3 408.6 1826.0 384.0 1826.8 372.1 1827.4 379.5 1828.0 394.7 1828.6 414.4 1829.2 434.1 1829.8 449.3 1830.4 456.7 1830.8 450.6 1831.1 438.0 1831.5 421.7 1831.9 405.4 1832.2 392.8 1832.6 386.7 1833.5 505.2 1834.2 486.4 1834.9 447.5 1835.6 397.1 1836.4 346.7 1837.1 307.8 1837.8 289.1 1838.5 304.0 1839.1 335.0 1839.7 375.3 1840.4 415.5 1841.0 446.6 1841.7 461.5 1842.1 458.6 1842.5 452.5 1843.0 444.5 1843.4 436.6 1843.8 430.5 1844.2 427.5 1845.2 447.1 1846.2 487.5 1847.2 539.9 1848.1 592.4 1849.1 632.8 1850.1 652.4 1852.0 617.4 1854.0 545.0 1855.9 451.0 1857.8 357.1 1859.8 284.7 1861.7 249.7 1862.0 256.6 1862.3 270.8 1862.6 289.3 1862.8 307.8 1863.1 322.1 1863.4 329.0 1863.7 324.4 1864.1 314.8 1864.5 302.5 1864.8 290.1 1865.2 280.5 1865.5 275.9 1866.2 302.7 1866.9 358.1 1867.6 429.9 1868.2 501.8 1868.9 557.1 1869.6 583.9 1870.9 567.1 1872.1 532.5 1873.4 487.5 1874.7 442.5 1875.9 407.8 1877.2 391.1 1877.7 419.6 1878.1 478.4 1878.6 554.9 1879.1 631.3 1879.5 690.2 1880.0 718.7 1882.4 681.7 1884.9 605.3 1887.3 506.1 1889.8 406.8 1892.2 330.4 1894.7 293.4 1895.7 323.9 1896.8 387.0 1897.9 468.8 1898.9 550.7 1900.0 613.7 1901.1 644.2 1901.9 622.2 1902.6 576.6 1903.4 517.4 1904.2 458.2 1905.0 412.5 1905.7 390.5 1906.8 412.1 1907.9 456.8 1909.0 514.9 1910.0 572.9 1911.1 617.6 1912.2 639.3 1912.8 620.5 1913.5 581.8 1914.2 531.5 1914.9 481.2 1915.6 442.5 1916.2 423.7 1916.7 449.3 1917.2 502.3 1917.7 571.0 1918.1 639.7 1918.6 692.7 1919.1 718.3 1919.8 703.1 1920.6 671.6 1921.3 630.7 1922.0 589.9 1922.8 558.4 1923.5 543.2 1924.5 555.6 1925.4 581.5 1926.4 615.0 1927.4 648.5 1928.4 674.3 1929.4 686.8 1930.2 657.8 1931.1 597.8 1932.0 520.0 1932.9 442.1 1933.7 382.2 1934.6 353.2 1935.1 359.2 1935.6 371.7 1936.1 387.9 1936.7 404.1 1937.2 416.5 1937.7 422.6 1938.0 412.7 1938.3 392.2 1938.6 365.7 1938.9 339.2 1939.2 318.8 1939.6 308.9 1940.1 323.9 1940.6 355.0 1941.2 395.4 1941.7 435.7 1942.2 466.8 1942.8 481.9 1943.7 461.9 1944.7 420.7 1945.7 367.2 1946.7 313.7 1947.6 272.5 1948.6 252.6 1949.3 279.5 1950.1 335.1 1950.8 407.3 1951.5 479.5 1952.2 535.1 1953.0 562.0 1953.9 542.4 1954.8 501.8 1955.7 449.1 1956.7 396.5 1957.6 355.9 1958.5 336.3 1959.5 369.1 1960.4 437.0 1961.4 525.1 1962.4 613.2 1963.3 681.1 1964.3 713.9 1965.2 675.9 1966.1 597.3 1966.9 495.4 1967.8 393.4 1968.7 314.8 1969.6 276.8 1970.2 295.6 1970.8 334.6 1971.3 385.2 1971.9 435.7 1972.5 474.7 1973.1 493.5 1973.9 473.5 1974.6 432.2 1975.4 378.5 1976.2 324.8 1977.0 283.4 1977.7 263.4 1978.7 286.5 1979.6 334.3 1980.5 396.4 1981.4 458.4 1982.4 506.3 1983.3 529.4 1984.3 515.7 1985.2 487.4 1986.2 450.7 1987.2 414.1 1988.1 385.8 1989.1 372.1 1989.6 376.8 1990.0 386.5 1990.5 399.2 1991.0 411.8 1991.4 421.5 1991.9 426.2 1992.3 421.8 1992.7 412.8 1993.1 401.1 1993.5 389.3 1993.9 380.3 1994.4 375.9 1994.9 432.2 1995.5 548.7 1996.1 699.9 1996.7 851.1 1997.2 967.6 1997.8 1023.9 1998.8 959.5 1999.9 826.2 2000.9 653.3 2001.9 480.3 2002.9 347.1 2004.0 282.6 2004.7 291.2 2005.4 308.8 2006.2 331.6 2006.9 354.5 2007.6 372.1 2008.4 380.6 2008.8 363.6 2009.2 328.5 2009.7 282.9 2010.1 237.4 2010.5 202.3 2011.0 185.3 2011.5 206.8 2012.1 251.2 2012.7 308.9 2013.2 366.5 2013.8 411.0 2014.4 432.5 2014.9 424.3 2015.5 407.4 2016.0 385.5 2016.6 363.6 2017.1 346.8 2017.7 338.6 2018.1 356.4 2018.5 393.1 2018.8 440.8 2019.2 488.5 2019.6 525.3 2020.0 543.1 2020.6 531.5 2021.2 507.6 2021.8 476.5 2022.3 445.5 2022.9 421.6 2023.5 410.0 2025.1 436.5 2026.7 491.4 2028.3 562.6 2029.8 633.8 2031.4 688.7 2033.0 715.2 2033.7 680.2 2034.4 607.9 2035.1 514.1 2035.8 420.2 2036.5 347.9 2037.2 313.0 2037.7 324.4 2038.2 348.1 2038.7 378.8 2039.3 409.6 2039.8 433.3 2040.3 444.7 2041.0 435.5 2041.8 416.4 2042.5 391.7 2043.3 366.9 2044.0 347.8 2044.8 338.6 2045.2 353.9 2045.7 385.5 2046.1 426.6 2046.5 467.6 2047.0 499.2 2047.4 514.5 2049.3 494.8 2051.2 454.0 2053.1 401.1 2055.0 348.1 2056.9 307.3 2058.8 287.6 2059.3 305.6 2059.8 342.9 2060.4 391.3 2060.9 439.7 2061.5 477.0 2062.0 495.0 2062.8 483.4 2063.5 459.3 2064.3 428.2 2065.1 397.0 2065.9 373.0 2066.6 361.3 2067.8 375.6 2069.0 405.1 2070.1 443.5 2071.3 481.8 2072.5 511.3 2073.6 525.6 2074.4 509.5 2075.2 476.3 2076.0 433.3 2076.8 390.2 2077.5 357.0 2078.3 340.9 2079.5 368.0 2080.6 423.8 2081.8 496.4 2083.0 568.9 2084.1 624.8 2085.3 651.8 2086.4 618.8 2087.5 550.6 2088.7 462.1 2089.8 373.6 2090.9 305.4 2092.0 272.4 2092.5 301.9 2093.0 362.9 2093.5 442.0 2094.0 521.1 2094.4 582.1 2094.9 611.6 2095.8 592.0 2096.6 551.6 2097.4 499.1 2098.2 446.7 2099.1 406.2 2099.9 386.7 2101.3 422.8 2102.8 497.5 2104.3 594.4 2105.8 691.4 2107.2 766.1 2108.7 802.2 2109.4 766.3 2110.1 691.9 2110.8 595.5 2111.6 499.0 2112.3 424.7 2113.0 388.7 2114.0 409.9 2115.0 453.6 2116.1 510.4 2117.1 567.1 2118.1 610.8 2119.1 632.0 2119.8 608.7 2120.5 560.6 2121.2 498.1 2121.8 435.6 2122.5 387.5 2123.2 364.3 2123.8 395.0 2124.5 458.7 2125.1 541.3 2125.7 623.9 2126.4 687.5 2127.0 718.3 2128.2 681.2 2129.4 604.5 2130.6 504.8 2131.9 405.2 2133.1 328.5 2134.3 291.4 2135.4 328.7 2136.5 405.9 2137.6 506.1 2138.7 606.4 2139.8 683.6 2140.9 720.9 2142.1 675.2 2143.3 580.7 2144.4 458.0 2145.6 335.4 2146.8 240.9 2148.0 195.2 2149.2 234.0 2150.4 314.2 2151.6 418.2 2152.8 522.3 2154.0 602.5 2155.3 641.3 2155.8 610.4 2156.3 546.6 2156.9 463.7 2157.4 380.8 2157.9 317.0 2158.5 286.1 2159.9 314.5 2161.4 373.1 2162.8 449.1 2164.3 525.2 2165.8 583.8 2167.2 612.2 2168.1 586.7 2169.1 533.9 2170.0 465.5 2170.9 397.0 2171.8 344.3 2172.8 318.8 2173.3 331.2 2173.8 356.9 2174.4 390.3 2174.9 423.7 2175.5 449.4 2176.0 461.8 2176.8 458.8 2177.7 452.7 2178.5 444.7 2179.3 436.7 2180.1 430.5 2180.9 427.5 2181.5 442.0 2182.2 472.1 2182.8 511.1 2183.4 550.1 2184.1 580.1 2184.7 594.7 2185.3 574.5 2185.9 532.8 2186.5 478.6 2187.0 424.4 2187.6 382.7 2188.2 362.5 2188.7 383.6 2189.2 427.4 2189.7 484.1 2190.1 540.9 2190.6 584.6 2191.1 605.7 2191.7 596.9 2192.4 578.5 2193.0 554.7 2193.6 530.9 2194.3 512.6 2194.9 503.7 2195.5 519.3 2196.1 551.5 2196.6 593.4 2197.2 635.2 2197.8 667.4 2198.4 683.0 2200.1 641.6 2201.8 556.0 2203.5 444.9 2205.2 333.8 2206.9 248.2 2208.6 206.9 2209.6 237.3 2210.5 300.4 2211.5 382.2 2212.5 464.1 2213.5 527.2 2214.4 557.6 2215.6 530.9 2216.7 475.5 2217.8 403.7 2218.9 331.8 2220.0 276.5 2221.1 249.7 2221.5 254.7 2221.8 264.9 2222.2 278.3 2222.5 291.6 2222.9 301.9 2223.2 306.8 2223.6 301.6 2223.9 290.8 2224.2 276.8 2224.6 262.8 2224.9 252.0 2225.2 246.8 2225.9 274.2 2226.5 331.0 2227.1 404.7 2227.7 478.4 2228.4 535.2 2229.0 562.6 2229.7 542.9 2230.5 502.1 2231.2 449.1 2231.9 396.2 2232.7 355.4 2233.4 335.7 2234.1 361.2 2234.8 414.1 2235.6 482.7 2236.3 551.3 2237.0 604.1 2237.8 629.6 2238.5 612.3 2239.2 576.5 2239.9 530.0 2240.7 483.5 2241.4 447.7 2242.1 430.4 2242.7 448.5 2243.3 485.9 2243.9 534.4 2244.5 582.9 2245.0 620.3 2245.6 638.4 2246.3 606.5 2247.0 540.6 2247.7 455.0 2248.3 369.4 2249.0 303.4 2249.7 271.6 2250.2 286.3 2250.7 316.7 2251.1 356.2 2251.6 395.8 2252.1 426.2 2252.6 440.9 2253.0 434.2 2253.5 420.2 2253.9 402.1 2254.4 384.1 2254.8 370.1 2255.2 363.4 2256.4 382.4 2257.5 421.8 2258.6 472.9 2259.7 524.0 2260.8 563.4 2261.9 582.4 2262.5 554.9 2263.1 498.1 2263.7 424.4 2264.3 350.6 2264.9 293.8 2265.4 266.3 2266.4 278.0 2267.3 302.2 2268.2 333.6 2269.2 365.1 2270.1 389.3 2271.0 401.0 2271.7 385.4 2272.4 353.3 2273.1 311.5 2273.7 269.7 2274.4 237.6 2275.1 222.0 2276.5 274.5 2277.9 383.1 2279.3 524.1 2280.7 665.0 2282.1 773.6 2283.5 826.1 2284.5 770.4 2285.5 655.2 2286.6 505.7 2287.6 356.2 2288.6 241.0 2289.6 185.3 2290.6 224.2 2291.5 304.8 2292.4 409.4 2293.3 513.9 2294.3 594.5 2295.2 633.4 2295.8 614.4 2296.4 575.0 2297.1 523.9 2297.7 472.8 2298.3 433.4 2299.0 414.4 2299.4 416.9 2299.9 422.1 2300.4 428.9 2300.9 435.7 2301.4 440.9 2301.8 443.5 2302.2 440.5 2302.5 434.3 2302.9 426.3 2303.2 418.3 2303.6 412.1 2303.9 409.1 2304.6 431.4 2305.2 477.3 2305.8 536.9 2306.4 596.5 2307.1 642.4 2307.7 664.6 2308.4 635.5 2309.2 575.4 2309.9 497.2 2310.6 419.1 2311.4 359.0 2312.1 329.9 2313.2 358.3 2314.2 417.3 2315.3 493.7 2316.4 570.2 2317.4 629.1 2318.5 657.6 2319.9 619.5 2321.2 540.5 2322.6 438.1 2323.9 335.6 2325.3 256.7 2326.7 218.5 2327.4 246.6 2328.1 304.7 2328.8 380.1 2329.6 455.5 2330.3 513.5 2331.0 541.6 2331.4 530.3 2331.8 506.9 2332.2 476.5 2332.6 446.2 2333.0 422.8 2333.4 411.5 2334.1 439.5 2334.7 497.4 2335.4 572.5 2336.1 647.7 2336.8 705.6 2337.5 733.6" stroke="#00bfff" stroke-width="5.5" stroke-linejoin="round" stroke-linecap="round" fill="none"/>
<path d="M75.9 464.5H2445.0" stroke="#e8e8e8" stroke-width="5.2" stroke-dasharray="19.2 8.33" fill="none"/>
<path d="M75.9 342.9H2445.0" stroke="#00e600" stroke-width="4.3" stroke-dasharray="4.3 7.03" fill="none"/>
<path d="M75.9 586.0H2445.0" stroke="#00e600" stroke-width="4.3" stroke-dasharray="4.3 7.03" fill="none"/>
<path d="M75.9 221.5H2445.0" stroke="#e60000" stroke-opacity="0.95" stroke-width="5.0" stroke-dasharray="33.2 8.3 5.2 8.35" fill="none"/>
<path d="M75.9 708.0H2445.0" stroke="#e60000" stroke-opacity="0.95" stroke-width="5.0" stroke-dasharray="33.2 8.3 5.2 8.35" fill="none"/>
<path d="M75.0 465.5H2445.0" stroke="#aaaaaa" stroke-width="2.8" fill="none"/>
<circle cx="2337.5" cy="733.6" r="11.7" fill="#ff0000"/>
</g>
<rect x="75.0" y="71.0" width="2370.0" height="1065.7" fill="none" stroke="#8a8a8a" stroke-width="2.1"/>
<path d="M294.8 1136.7v11.3M576.7 1136.7v11.3M858.5 1136.7v11.3M1140.4 1136.7v11.3M1422.3 1136.7v11.3M1704.1 1136.7v11.3M1986.0 1136.7v11.3M2267.9 1136.7v11.3M75.0 237.8h-11.0M75.0 464.6h-11.0M75.0 692.0h-11.0M75.0 917.8h-11.0" stroke="#e6e6e6" stroke-width="2.2" fill="none"/>
<text x="256.4" y="1181.5" font-size="32.00" textLength="76.9" lengthAdjust="spacingAndGlyphs" fill="#e6e6e6">1990</text>
<text x="538.2" y="1181.5" font-size="32.00" textLength="76.9" lengthAdjust="spacingAndGlyphs" fill="#e6e6e6">1995</text>
<text x="820.1" y="1181.5" font-size="32.00" textLength="76.9" lengthAdjust="spacingAndGlyphs" fill="#e6e6e6">2000</text>
<text x="1102.0" y="1181.5" font-size="32.00" textLength="76.9" lengthAdjust="spacingAndGlyphs" fill="#e6e6e6">2005</text>
<text x="1383.9" y="1181.5" font-size="32.00" textLength="76.9" lengthAdjust="spacingAndGlyphs" fill="#e6e6e6">2010</text>
<text x="1665.7" y="1181.5" font-size="32.00" textLength="76.9" lengthAdjust="spacingAndGlyphs" fill="#e6e6e6">2015</text>
<text x="1947.6" y="1181.5" font-size="32.00" textLength="76.9" lengthAdjust="spacingAndGlyphs" fill="#e6e6e6">2020</text>
<text x="2229.5" y="1181.5" font-size="32.00" textLength="76.9" lengthAdjust="spacingAndGlyphs" fill="#e6e6e6">2025</text>
<text x="35.3" y="249.7" font-size="32.00" textLength="19.2" lengthAdjust="spacingAndGlyphs" fill="#e6e6e6">1</text>
<text x="35.3" y="476.5" font-size="32.00" textLength="19.2" lengthAdjust="spacingAndGlyphs" fill="#e6e6e6">0</text>
<text x="35.3" y="703.9" font-size="32.00" textLength="19.2" lengthAdjust="spacingAndGlyphs" fill="#e6e6e6">1</text>
<text x="10.0" y="705.2" font-size="32.00" textLength="25.3" lengthAdjust="spacingAndGlyphs" fill="#e6e6e6">−</text>
<text x="35.3" y="929.7" font-size="32.00" textLength="19.2" lengthAdjust="spacingAndGlyphs" fill="#e6e6e6">2</text>
<text x="10.0" y="931.0" font-size="32.00" textLength="25.3" lengthAdjust="spacingAndGlyphs" fill="#e6e6e6">−</text>
<text x="985.1" y="40.2" font-size="42.07" textLength="549.7" lengthAdjust="spacingAndGlyphs" fill="#fff">DAX - Composite z (EMA20)</text>
<rect x="89.8" y="85.1" width="815.7" height="133.1" rx="5" fill="#404040" fill-opacity="0.14" stroke="#ffffff" stroke-opacity="0.15" stroke-width="2.4"/>
<path d="M99.9 108.0H155.2" stroke="#00bfff" stroke-width="5.5" stroke-linecap="square"/>
<path d="M99.9 150.0H155.2" stroke="#e8e8e8" stroke-width="5.2" stroke-dasharray="19.1 8.3"/>
<path d="M99.9 191.3H155.2" stroke="#00e600" stroke-width="4.4" stroke-dasharray="4.4 6.9"/>
<text x="177.3" y="117.2" font-size="29.24" textLength="296.1" lengthAdjust="spacingAndGlyphs" fill="#fff">Composite z (EMA20)</text>
<text x="177.3" y="159.0" font-size="29.24" textLength="78.3" lengthAdjust="spacingAndGlyphs" fill="#fff">mean</text>
<text x="177.3" y="200.8" font-size="29.24" textLength="72.6" lengthAdjust="spacingAndGlyphs" fill="#fff">+1sd</text>
<path d="M527.6 108.0H582.9" stroke="#00e600" stroke-width="4.4" stroke-dasharray="4.4 6.9"/>
<path d="M528.6 150.0H582.9" stroke="#e60000" stroke-width="5.0" stroke-dasharray="33.2 8.3 5.2 18.3"/>
<path d="M528.6 191.3H582.9" stroke="#e60000" stroke-width="5.0" stroke-dasharray="33.2 8.3 5.2 18.3"/>
<text x="605.0" y="117.2" font-size="29.24" textLength="59.4" lengthAdjust="spacingAndGlyphs" fill="#fff">-1sd</text>
<text x="605.0" y="159.0" font-size="29.24" textLength="72.6" lengthAdjust="spacingAndGlyphs" fill="#fff">+2sd</text>
<text x="605.0" y="200.8" font-size="29.24" textLength="59.4" lengthAdjust="spacingAndGlyphs" fill="#fff">-2sd</text>
<path d="M732.5 108.4H787.8" stroke="#aaaaaa" stroke-width="2.8" stroke-linecap="square"/>
<circle cx="759.6" cy="152.5" r="11.9" fill="#ff0000"/>
<text x="809.9" y="117.2" font-size="29.24" textLength="17.6" lengthAdjust="spacingAndGlyphs" fill="#fff">0</text>
<text x="809.9" y="159.0" font-size="29.24" textLength="85.3" lengthAdjust="spacingAndGlyphs" fill="#fff">Latest</text>
<rect x="2485.0" y="184.50" width="18.8" height="16.80" fill="#999999" stroke="#ffffff" stroke-width="1.1"/>
<rect x="2485.0" y="201.30" width="20.5" height="16.80" fill="#999999" stroke="#ffffff" stroke-width="1.1"/>
<rect x="2485.0" y="218.11" width="25.5" height="16.80" fill="#999999" stroke="#ffffff" stroke-width="1.1"/>
<rect x="2485.0" y="234.91" width="56.5" height="16.80" fill="#999999" stroke="#ffffff" stroke-width="1.1"/>
<rect x="2485.0" y="251.72" width="130.5" height="16.80" fill="#999999" stroke="#ffffff" stroke-width="1.1"/>
<rect x="2485.0" y="268.52" width="148.5" height="16.80" fill="#999999" stroke="#ffffff" stroke-width="1.1"/>
<rect x="2485.0" y="285.32" width="260.5" height="16.80" fill="#999999" stroke="#ffffff" stroke-width="1.1"/>
<rect x="2485.0" y="302.13" width="475.7" height="16.80" fill="#999999" stroke="#ffffff" stroke-width="1.1"/>
<rect x="2485.0" y="318.93" width="526.6" height="16.80" fill="#999999" stroke="#ffffff" stroke-width="1.1"/>
<rect x="2485.0" y="335.74" width="521.6" height="16.80" fill="#999999" stroke="#ffffff" stroke-width="1.1"/>
<rect x="2485.0" y="352.54" width="517.4" height="16.80" fill="#999999" stroke="#ffffff" stroke-width="1.1"/>
<rect x="2485.0" y="369.34" width="566.6" height="16.80" fill="#999999" stroke="#ffffff" stroke-width="1.1"/>
<rect x="2485.0" y="386.15" width="644.5" height="16.80" fill="#999999" stroke="#ffffff" stroke-width="1.1"/>
<rect x="2485.0" y="402.95" width="583.5" height="16.80" fill="#999999" stroke="#ffffff" stroke-width="1.1"/>
<rect x="2485.0" y="419.76" width="540.4" height="16.80" fill="#999999" stroke="#ffffff" stroke-width="1.1"/>
<rect x="2485.0" y="436.56" width="533.4" height="16.80" fill="#999999" stroke="#ffffff" stroke-width="1.1"/>
<rect x="2485.0" y="453.36" width="484.4" height="16.80" fill="#999999" stroke="#ffffff" stroke-width="1.1"/>
<rect x="2485.0" y="470.17" width="456.6" height="16.80" fill="#999999" stroke="#ffffff" stroke-width="1.1"/>
<rect x="2485.0" y="486.97" width="408.5" height="16.80" fill="#999999" stroke="#ffffff" stroke-width="1.1"/>
<rect x="2485.0" y="503.78" width="395.5" height="16.80" fill="#999999" stroke="#ffffff" stroke-width="1.1"/>
<rect x="2485.0" y="520.58" width="418.3" height="16.80" fill="#999999" stroke="#ffffff" stroke-width="1.1"/>
<rect x="2485.0" y="537.38" width="364.6" height="16.80" fill="#999999" stroke="#ffffff" stroke-width="1.1"/>
<rect x="2485.0" y="554.19" width="353.6" height="16.80" fill="#999999" stroke="#ffffff" stroke-width="1.1"/>
<rect x="2485.0" y="570.99" width="380.6" height="16.80" fill="#999999" stroke="#ffffff" stroke-width="1.1"/>
<rect x="2485.0" y="587.80" width="360.4" height="16.80" fill="#999999" stroke="#ffffff" stroke-width="1.1"/>
<rect x="2485.0" y="604.60" width="326.6" height="16.80" fill="#999999" stroke="#ffffff" stroke-width="1.1"/>
<rect x="2485.0" y="621.40" width="329.4" height="16.80" fill="#999999" stroke="#ffffff" stroke-width="1.1"/>
<rect x="2485.0" y="638.21" width="240.5" height="16.80" fill="#999999" stroke="#ffffff" stroke-width="1.1"/>
<rect x="2485.0" y="655.01" width="173.5" height="16.80" fill="#999999" stroke="#ffffff" stroke-width="1.1"/>
<rect x="2485.0" y="671.82" width="156.4" height="16.80" fill="#999999" stroke="#ffffff" stroke-width="1.1"/>
<rect x="2485.0" y="688.62" width="112.5" height="16.80" fill="#999999" stroke="#ffffff" stroke-width="1.1"/>
<rect x="2485.0" y="705.42" width="102.6" height="16.80" fill="#999999" stroke="#ffffff" stroke-width="1.1"/>
<rect x="2485.0" y="722.23" width="70.7" height="16.80" fill="#999999" stroke="#ffffff" stroke-width="1.1"/>
<rect x="2485.0" y="739.03" width="50.6" height="16.80" fill="#999999" stroke="#ffffff" stroke-width="1.1"/>
<rect x="2485.0" y="755.84" width="18.5" height="16.80" fill="#999999" stroke="#ffffff" stroke-width="1.1"/>
<rect x="2485.0" y="772.64" width="19.6" height="16.80" fill="#999999" stroke="#ffffff" stroke-width="1.1"/>
<rect x="2485.0" y="789.44" width="12.4" height="16.80" fill="#999999" stroke="#ffffff" stroke-width="1.1"/>
<rect x="2485.0" y="806.25" width="15.7" height="16.80" fill="#999999" stroke="#ffffff" stroke-width="1.1"/>
<rect x="2485.0" y="823.05" width="6.4" height="16.80" fill="#999999" stroke="#ffffff" stroke-width="1.1"/>
<rect x="2485.0" y="839.86" width="3.6" height="16.80" fill="#999999" stroke="#ffffff" stroke-width="1.1"/>
<rect x="2485.0" y="856.66" width="1.9" height="16.80" fill="#999999" stroke="#ffffff" stroke-width="1.1"/>
<rect x="2485.0" y="890.27" width="2.6" height="16.80" fill="#999999" stroke="#ffffff" stroke-width="1.1"/>
<rect x="2485.0" y="940.68" width="2.6" height="16.80" fill="#999999" stroke="#ffffff" stroke-width="1.1"/>
<rect x="2485.0" y="974.29" width="1.9" height="16.80" fill="#999999" stroke="#ffffff" stroke-width="1.1"/>
<rect x="2485.0" y="991.09" width="2.4" height="16.80" fill="#999999" stroke="#ffffff" stroke-width="1.1"/>
<rect x="2485.0" y="1007.90" width="4.0" height="16.80" fill="#999999" stroke="#ffffff" stroke-width="1.1"/>
<rect x="2485.0" y="71.0" width="677.3" height="1065.7" fill="none" stroke="#8a8a8a" stroke-width="2.1"/>
<path d="M2484.9 1136.7v11.3M2596.9 1136.7v11.3M2708.9 1136.7v11.3M2820.9 1136.7v11.3M2932.9 1136.7v11.3M3044.9 1136.7v11.3M3156.9 1136.7v11.3" stroke="#e6e6e6" stroke-width="2.2" fill="none"/>
<text x="2477.3" y="1178.0" font-size="25.22" textLength="15.1" lengthAdjust="spacingAndGlyphs" fill="#e6e6e6">0</text>
<text x="2574.2" y="1178.0" font-size="25.22" textLength="45.4" lengthAdjust="spacingAndGlyphs" fill="#e6e6e6">100</text>
<text x="2686.2" y="1178.0" font-size="25.22" textLength="45.4" lengthAdjust="spacingAndGlyphs" fill="#e6e6e6">200</text>
<text x="2798.2" y="1178.0" font-size="25.22" textLength="45.4" lengthAdjust="spacingAndGlyphs" fill="#e6e6e6">300</text>
<text x="2910.2" y="1178.0" font-size="25.22" textLength="45.4" lengthAdjust="spacingAndGlyphs" fill="#e6e6e6">400</text>
<text x="3022.2" y="1178.0" font-size="25.22" textLength="45.4" lengthAdjust="spacingAndGlyphs" fill="#e6e6e6">500</text>
<text x="3134.2" y="1178.0" font-size="25.22" textLength="45.4" lengthAdjust="spacingAndGlyphs" fill="#e6e6e6">600</text>
<text x="2752.6" y="1216.6" font-size="29.14" textLength="142.1" lengthAdjust="spacingAndGlyphs" fill="#e6e6e6">Frequency</text>
</svg>
</body></html>
